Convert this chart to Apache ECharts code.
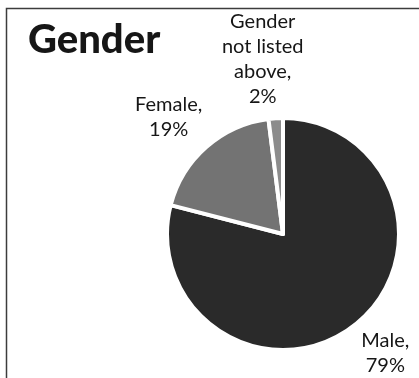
<!DOCTYPE html>
<html>
<head>
<meta charset="utf-8">
<script src="https://cdn.jsdelivr.net/npm/echarts@6/dist/echarts.min.js"></script>
<style>
  html, body { margin: 0; padding: 0; background: #ffffff; }
  #chart { width: 419px; height: 378px; }
</style>
</head>
<body>
<div id="chart"></div>
<script>
// Survey responses by gender (percent of respondents)
const categories = ['Male', 'Female', 'Gender not listed above'];
const percents = [79, 19, 2];
const sliceColors = ['#2a2a2a', '#737373', '#8c8c8c'];

// Pie geometry (pixels)
const CX = 283, CY = 234, R = 114, BORDER = 4, LABEL_GAP = 8;
const LABEL_TURN = -3 * Math.PI / 180; // labels sit slightly counter-clockwise of mid-slice
const LABEL_FONT = '20px Lato';
const WRAP_WIDTH = 88;

const total = percents.reduce((a, b) => a + b, 0);

const measureCtx = document.createElement('canvas').getContext('2d');
function textWidth(s) {
  measureCtx.font = LABEL_FONT;
  return measureCtx.measureText(s).width;
}

// Word-wrap a label so no line is wider than WRAP_WIDTH
function wrapWords(text) {
  const words = text.split(' ');
  const lines = [];
  let line = '';
  words.forEach(w => {
    const trial = line ? line + ' ' + w : w;
    if (line && textWidth(trial) > WRAP_WIDTH) {
      lines.push(line);
      line = w;
    } else {
      line = trial;
    }
  });
  if (line) lines.push(line);
  return lines;
}

function labelLines(i) {
  return wrapWords(categories[i] + ',').concat([percents[i] + '%']);
}

// Place each label just outside its slice, near the slice's mid-angle
function placeLabel(params) {
  const i = params.dataIndex;
  let before = 0;
  for (let k = 0; k < i; k++) before += percents[k];
  const a = ((before + percents[i] / 2) / total) * Math.PI * 2 + LABEL_TURN;
  const ux = Math.sin(a), uy = -Math.cos(a);
  const lines = labelLines(i);
  const w = Math.max.apply(null, lines.map(textWidth));
  const h = lines.length * 25;
  const d = R + LABEL_GAP + Math.abs(ux) * w / 2 + Math.abs(uy) * h / 2;
  return { x: CX + ux * d, y: CY + uy * d, align: 'center', verticalAlign: 'middle' };
}

const chart = echarts.init(document.getElementById('chart'), null, { renderer: 'canvas' });
chart.setOption({
  backgroundColor: '#ffffff',
  animation: false,
  title: {
    text: 'Gender',
    left: 23,
    top: 15,
    textStyle: { fontFamily: 'Lato', fontWeight: 900, fontSize: 40, color: '#161616' }
  },
  graphic: [{
    type: 'rect',
    shape: { x: 6.5, y: 8.5, width: 440, height: 420 },
    style: { fill: 'none', stroke: '#3c3c3c', lineWidth: 1.5 },
    silent: true
  }],
  series: [{
    type: 'pie',
    center: [CX, CY],
    radius: R + BORDER / 2,
    startAngle: 90,
    clockwise: true,
    avoidLabelOverlap: false,
    itemStyle: { borderColor: '#ffffff', borderWidth: BORDER },
    label: {
      show: true,
      position: 'outside',
      formatter: p => labelLines(p.dataIndex).join('\n'),
      fontFamily: 'Lato',
      fontSize: 20,
      lineHeight: 25,
      color: '#161616',
      align: 'center'
    },
    labelLine: { show: false },
    labelLayout: placeLabel,
    data: categories.map((name, i) => ({
      name: name,
      value: percents[i],
      itemStyle: { color: sliceColors[i] }
    }))
  }]
});
</script>
</body>
</html>
